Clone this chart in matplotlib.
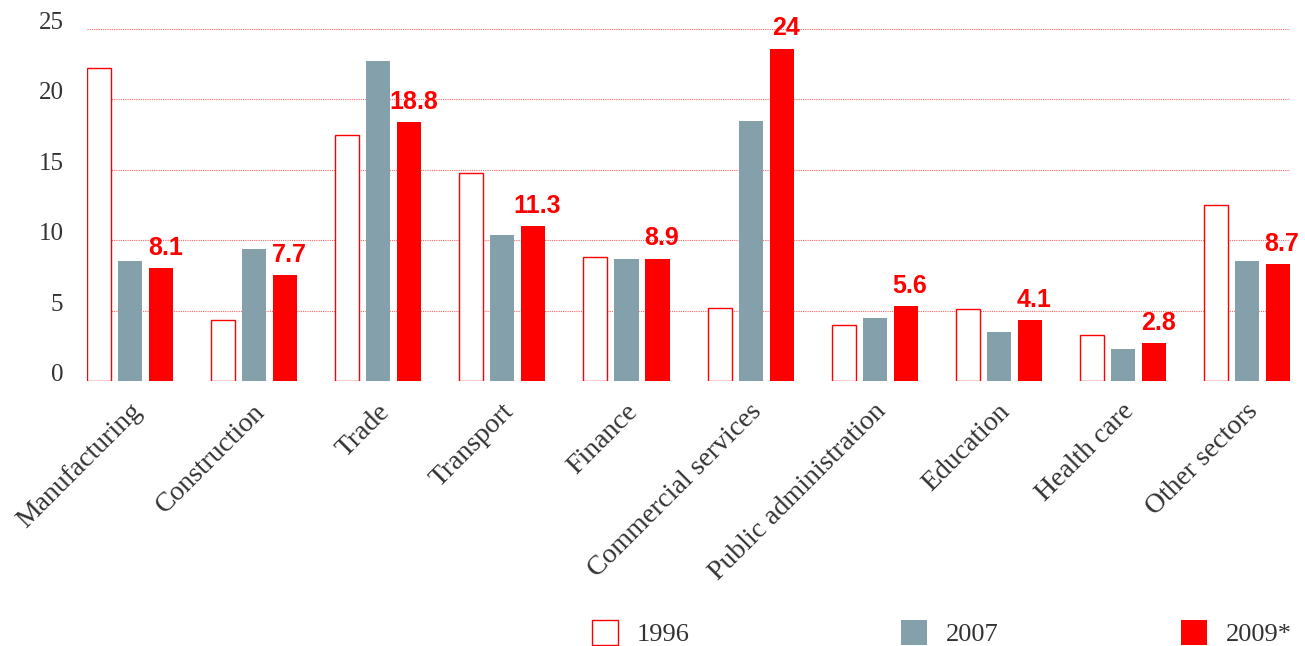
import matplotlib.pyplot as plt
import numpy as np
from matplotlib.patches import Patch

sectors = ['Manufacturing', 'Construction', 'Trade', 'Transport', 'Finance',
           'Commercial services', 'Public administration', 'Education',
           'Health care', 'Other sectors']
share_1996 = [22.2, 4.3, 17.5, 14.8, 8.8, 5.2, 4.0, 5.1, 3.3, 12.5]
share_2007 = [8.5, 9.4, 22.7, 10.4, 8.7, 18.5, 4.5, 3.5, 2.3, 8.5]
share_2009 = [8.0, 7.5, 18.4, 11.0, 8.7, 23.6, 5.3, 4.3, 2.7, 8.3]
labels_2009 = ['8.1', '7.7', '18.8', '11.3', '8.9', '24', '5.6', '4.1', '2.8', '8.7']

red = '#ff0000'
grey = '#84a0aa'
txt = '#333333'
serif = 'Liberation Serif'

fig = plt.figure(figsize=(13.05, 6.46), dpi=100)
ax = fig.add_axes([0.0667, 0.4102, 0.9218, 0.5449])

x = np.arange(len(sectors))
w = 0.194
ax.bar(x - 0.25, share_1996, w, facecolor='white', edgecolor=red, linewidth=1.0, zorder=3)
ax.bar(x, share_2007, w, color=grey, zorder=3)
ax.bar(x + 0.25, share_2009, w, color=red, zorder=3)

for xi, v, lab in zip(x, share_2009, labels_2009):
    ax.annotate(lab, (xi + 0.25, v), xytext=(3, 6), textcoords='offset points',
                ha='center', va='bottom', color=red, fontsize=18, fontweight='bold',
                family='Liberation Sans', annotation_clip=False)

ax.set_xlim(-0.347, 9.347)
ax.set_ylim(0, 25)
ax.set_yticks([0, 5, 10, 15, 20, 25])
ax.yaxis.grid(True, color=red, linestyle=(0, (1, 1)), linewidth=0.8, alpha=0.6, zorder=0)
ax.set_axisbelow(True)
for s in ax.spines.values():
    s.set_visible(False)
ax.tick_params(axis='both', length=0)
ax.tick_params(axis='y', pad=17, labelsize=18, labelcolor=txt)
for t in ax.get_yticklabels():
    t.set_family(serif)
    t.set_va('baseline')

ax.set_xticks(x - 0.01)
ax.set_xticklabels(sectors, rotation=45, ha='right', rotation_mode='anchor',
                   family=serif, fontsize=20, color=txt)
ax.tick_params(axis='x', pad=13)

handles = [Patch(facecolor='white', edgecolor=red, linewidth=1.0),
           Patch(facecolor=grey, edgecolor='none'),
           Patch(facecolor=red, edgecolor='none')]
names = ['1996', '2007', '2009*']
lefts = [592, 901, 1181]
for h, n, lx in zip(handles, names, lefts):
    fig.legend([h], [n], loc='center left', bbox_to_anchor=(lx / 1305, 1 - 633 / 646),
               frameon=False, borderpad=0, borderaxespad=0, handlelength=1.0,
               handleheight=1.1, handletextpad=0.7,
               prop={'family': serif, 'size': 19}, labelcolor=txt)

fig.savefig('out.png', dpi=100)
